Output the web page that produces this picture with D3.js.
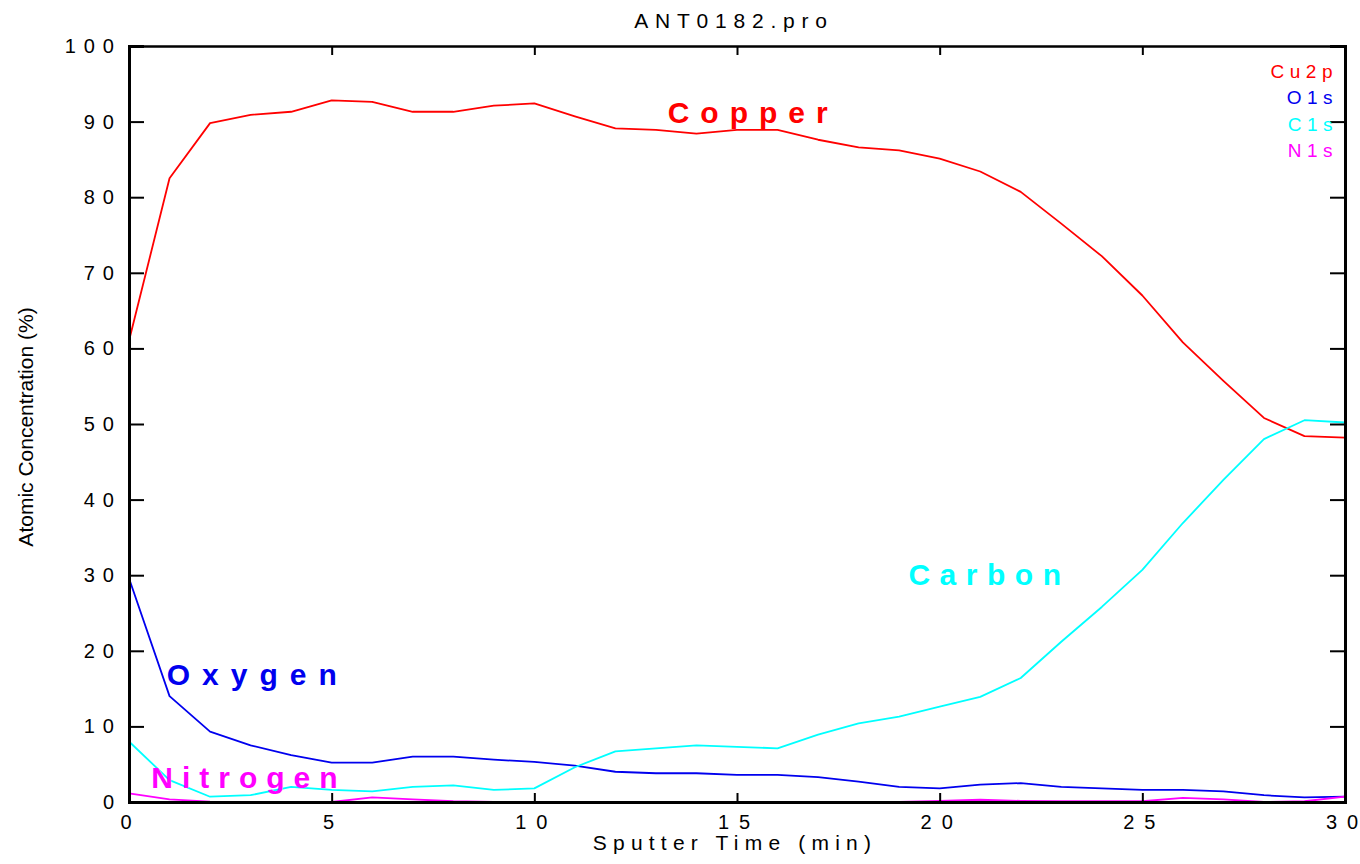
<!DOCTYPE html>
<html>
<head>
<meta charset="utf-8">
<script src="https://cdn.jsdelivr.net/npm/d3@7"></script>
<style>
    body { margin: 0; background: #fff; }
    text { font-family: "Liberation Sans", Arial, sans-serif; }
</style>
</head>
<body>
<svg id="Target" width="1360" height="864"></svg>
<script>
// sputter time (min)
const times = d3.range(0, 31);

const cu2p = [61.0, 82.5, 89.8, 90.9, 91.3, 92.8, 92.6, 91.3, 91.3, 92.1, 92.4, 90.7, 89.1, 88.9, 88.4, 88.9,
    88.9, 87.6, 86.6, 86.2, 85.1, 83.4, 80.7, 76.5, 72.2, 67.0, 60.8, 55.7, 50.8, 48.4, 48.2];
const o1s = [29.6, 14.0, 9.3, 7.5, 6.2, 5.2, 5.2, 6.0, 6.0, 5.6, 5.3, 4.8, 4.0, 3.8, 3.8, 3.6,
    3.6, 3.3, 2.7, 2.0, 1.8, 2.3, 2.5, 2.0, 1.8, 1.6, 1.6, 1.4, 0.9, 0.6, 0.7];
const c1s = [8.0, 2.9, 0.7, 0.9, 2.0, 1.6, 1.4, 2.0, 2.2, 1.6, 1.8, 4.6, 6.7, 7.1, 7.5, 7.3,
    7.1, 8.9, 10.4, 11.3, 12.6, 13.9, 16.4, 21.2, 25.8, 30.7, 36.9, 42.6, 48.0, 50.5, 50.2];
const n1s = [1.15, 0.35, 0.05, 0, 0, 0, 0.6, 0.35, 0.1, 0, 0, 0, 0, 0, 0, 0,
    0, 0, 0, 0, 0.15, 0.3, 0.15, 0.1, 0.1, 0.1, 0.55, 0.35, 0, 0.1, 0.7];

const seriesNames = ["Cu2p", "O1s", "C1s", "N1s"];
const seriesColors = ["#ff0000", "#0000ee", "#00ffff", "#ff00ff"];
const seriesValues = [cu2p, o1s, c1s, n1s];

const xTicks = [0, 5, 10, 15, 20, 25, 30];
const yTicks = [0, 10, 20, 30, 40, 50, 60, 70, 80, 90, 100];

// big element labels inside the plot: [text, colour, time, conc]
const elementLabels = [
    ["Copper", "#ff0000", 13.29, 89.85],
    ["Carbon", "#00ffff", 19.23, 28.7],
    ["Oxygen", "#0000ee", 0.93, 15.5],
    ["Nitrogen", "#ff00ff", 0.55, 1.8]
];

const svg = d3.select("#Target");
const plotLeft = 129, plotRight = 1345, plotTop = 46, plotBottom = 802;

const x = d3.scaleLinear().domain([0, 30]).range([plotLeft, plotRight]);
const y = d3.scaleLinear().domain([0, 100]).range([plotBottom, plotTop]);

// title
svg.append("text")
    .attr("x", 734).attr("y", 28)
    .attr("text-anchor", "middle")
    .attr("font-size", 21)
    .attr("letter-spacing", 6.8)
    .text("ANT0182.pro");

// series lines
const lineGenerator = d3.line()
    .x((d, i) => x(times[i]))
    .y(d => y(d));

seriesValues.forEach((vals, k) => {
    svg.append("path")
        .datum(vals)
        .attr("d", lineGenerator)
        .attr("fill", "none")
        .attr("stroke", seriesColors[k])
        .attr("stroke-width", 1.8)
        .attr("stroke-linejoin", "round");
});

// axes (ticks pointing inward)
const axisLeft = svg.append("g")
    .attr("transform", `translate(${plotLeft},0)`)
    .call(d3.axisRight(y).tickValues(yTicks).tickSize(15).tickFormat(""));
const axisRight = svg.append("g")
    .attr("transform", `translate(${plotRight},0)`)
    .call(d3.axisLeft(y).tickValues(yTicks).tickSize(15).tickFormat(""));
const axisBottom = svg.append("g")
    .attr("transform", `translate(0,${plotBottom})`)
    .call(d3.axisTop(x).tickValues(xTicks).tickSize(9).tickFormat(""));
const axisTop = svg.append("g")
    .attr("transform", `translate(0,${plotTop})`)
    .call(d3.axisBottom(x).tickValues(xTicks).tickSize(9).tickFormat(""));

[axisLeft, axisRight, axisBottom, axisTop].forEach(a => {
    a.select(".domain").attr("stroke", "#000").attr("stroke-width", 3);
    a.selectAll(".tick line").attr("stroke", "#000").attr("stroke-width", 2);
});
axisTop.select(".domain").attr("stroke-width", 2.5);

// tick labels
svg.selectAll("text.ylab")
    .data(yTicks)
    .enter()
    .append("text")
    .attr("class", "ylab")
    .attr("x", 122)
    .attr("y", d => y(d) + 7)
    .attr("text-anchor", "end")
    .attr("font-size", 20)
    .attr("letter-spacing", 8)
    .text(d => String(d));

// x labels: digits spread out with dx so there's no trailing gap
const xLabels = svg.selectAll("text.xlab")
    .data(xTicks)
    .enter()
    .append("text")
    .attr("class", "xlab")
    .attr("x", d => x(d) - 3)
    .attr("y", 829)
    .attr("text-anchor", "middle")
    .attr("font-size", 20);

xLabels.selectAll("tspan")
    .data(d => String(d).split(""))
    .enter()
    .append("tspan")
    .attr("dx", (c, i) => i > 0 ? 10 : 0)
    .text(c => c);

// axis titles
svg.append("text")
    .attr("x", 735).attr("y", 850)
    .attr("text-anchor", "middle")
    .attr("font-size", 21)
    .attr("letter-spacing", 6.2)
    .text("Sputter Time (min)");

svg.append("text")
    .attr("transform", "translate(33,427) rotate(-90)")
    .attr("text-anchor", "middle")
    .attr("font-size", 21)
    .text("Atomic Concentration (%)");

// legend
svg.selectAll("text.legend")
    .data(seriesNames)
    .enter()
    .append("text")
    .attr("class", "legend")
    .attr("x", 1338)
    .attr("y", (d, i) => 77.5 + i * 26.5)
    .attr("text-anchor", "end")
    .attr("font-size", 19)
    .attr("letter-spacing", 5.5)
    .attr("fill", (d, i) => seriesColors[i])
    .text(d => d);

// element labels
const labelSpacing = { Copper: 11, Carbon: 9.5, Oxygen: 12, Nitrogen: 9 };
svg.selectAll("text.element")
    .data(elementLabels)
    .enter()
    .append("text")
    .attr("class", "element")
    .attr("x", d => x(d[2]))
    .attr("y", d => y(d[3]))
    .attr("font-size", 30)
    .attr("font-weight", "bold")
    .attr("letter-spacing", d => labelSpacing[d[0]])
    .attr("fill", d => d[1])
    .text(d => d[0]);
</script>
</body>
</html>
